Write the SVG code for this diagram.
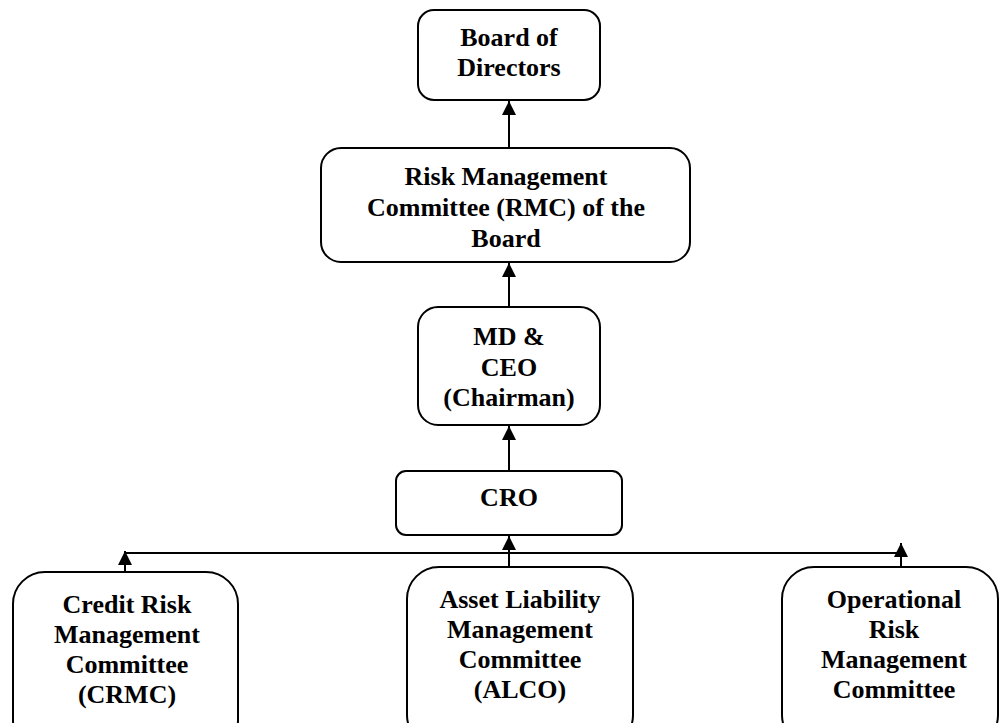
<svg xmlns="http://www.w3.org/2000/svg" width="1000" height="723" viewBox="0 0 1000 723">
<style>
.box{fill:#fff;stroke:#000;stroke-width:2}
.t{font-family:"Liberation Serif","Times New Roman",serif;font-weight:bold;font-size:26px;text-anchor:middle;fill:#000}
.c{stroke:#000;stroke-width:2;fill:none}
</style>
<defs>
<marker id="ah" viewBox="0 0 14 14" refX="14" refY="7" markerWidth="14" markerHeight="14" orient="auto" markerUnits="userSpaceOnUse">
<path d="M0,0 L14,7 L0,14 z" fill="#000"/>
</marker>
</defs>
<rect width="1000" height="723" fill="#fff"/>
<g id="connectors">
<line class="c" x1="509" y1="148" x2="509" y2="101" marker-end="url(#ah)"/>
<line class="c" x1="509" y1="307" x2="509" y2="263" marker-end="url(#ah)"/>
<line class="c" x1="509" y1="471" x2="509" y2="426" marker-end="url(#ah)"/>
<line class="c" x1="509" y1="567" x2="509" y2="536" marker-end="url(#ah)"/>
<line class="c" x1="124" y1="553" x2="901" y2="553"/>
<line class="c" x1="125" y1="572" x2="125" y2="551" marker-end="url(#ah)"/>
<line class="c" x1="901" y1="567" x2="901" y2="543" marker-end="url(#ah)"/>
</g>
<g id="board">
<rect class="box" x="418" y="10" width="182" height="90" rx="16"/>
<text class="t" x="509" y="46">Board of</text>
<text class="t" x="509" y="76">Directors</text>
</g>
<g id="rmc">
<rect class="box" x="321" y="148" width="369" height="114" rx="20"/>
<text class="t" x="506" y="185">Risk Management</text>
<text class="t" x="506" y="216">Committee (RMC) of the</text>
<text class="t" x="506" y="247">Board</text>
</g>
<g id="mdceo">
<rect class="box" x="418" y="307" width="182" height="118" rx="20"/>
<text class="t" x="509" y="345">MD &amp;</text>
<text class="t" x="509" y="376">CEO</text>
<text class="t" x="509" y="406">(Chairman)</text>
</g>
<g id="cro">
<rect class="box" x="396" y="471" width="226" height="64" rx="10"/>
<text class="t" x="509" y="506">CRO</text>
</g>
<g id="crmc">
<rect class="box" x="13" y="572" width="225" height="180" rx="32"/>
<text class="t" x="127" y="613">Credit Risk</text>
<text class="t" x="127" y="643">Management</text>
<text class="t" x="127" y="673">Committee</text>
<text class="t" x="127" y="703">(CRMC)</text>
</g>
<g id="alco">
<rect class="box" x="407" y="567" width="226" height="180" rx="32"/>
<text class="t" x="520" y="608">Asset Liability</text>
<text class="t" x="520" y="638">Management</text>
<text class="t" x="520" y="668">Committee</text>
<text class="t" x="520" y="698">(ALCO)</text>
</g>
<g id="ormc">
<rect class="box" x="782" y="567" width="216" height="180" rx="32"/>
<text class="t" x="894" y="608">Operational</text>
<text class="t" x="894" y="638">Risk</text>
<text class="t" x="894" y="668">Management</text>
<text class="t" x="894" y="698">Committee</text>
</g>
</svg>
